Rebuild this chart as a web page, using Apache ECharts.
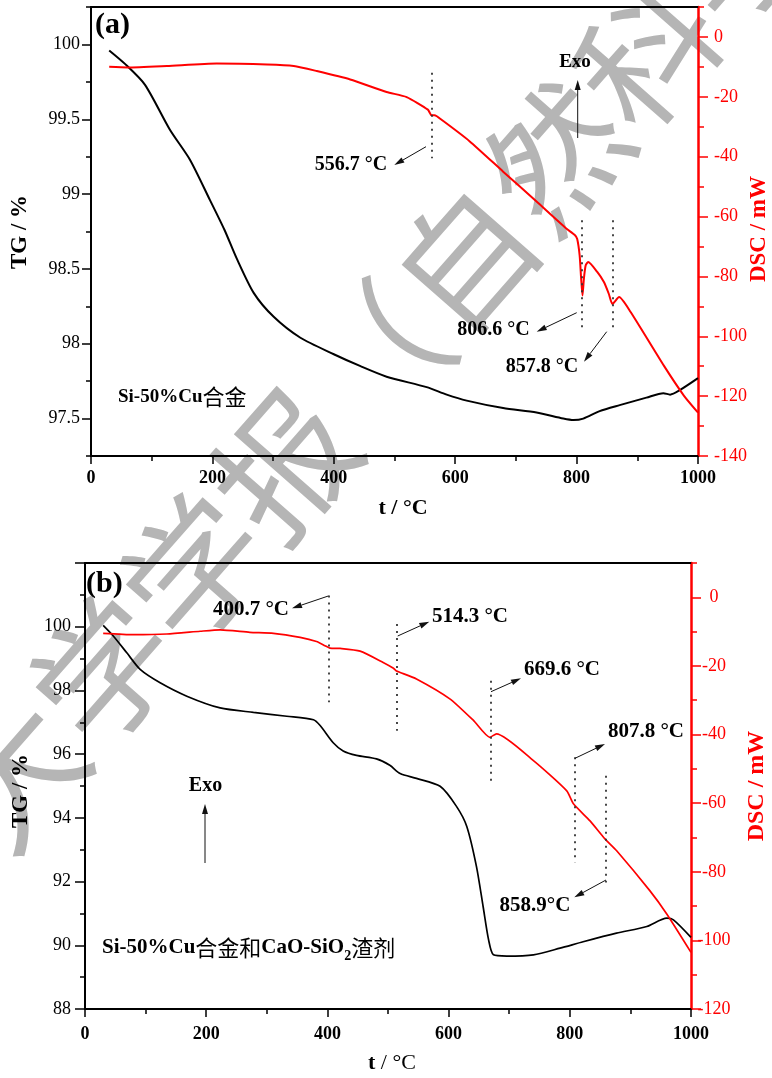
<!DOCTYPE html>
<html><head><meta charset="utf-8">
<script src="https://cdn.jsdelivr.net/npm/echarts@6/dist/echarts.min.js"></script>
<style>html,body{margin:0;padding:0;background:#fff}#c{width:772px;height:1078px}</style>
</head><body><div id="c"></div>
<script>
// ---------- DATA ----------
// Panel (a): Si-50%Cu alloy
const tgA_T = [30, 56, 89, 130, 163, 196, 220, 240, 268, 301, 345, 400, 444, 487, 553, 586, 619, 679, 734, 778, 795, 811, 838, 871, 915, 943, 954, 970, 1000];
const tgA   = [99.96, 99.87, 99.73, 99.43, 99.23, 98.96, 98.76, 98.57, 98.34, 98.18, 98.04, 97.93, 97.85, 97.78, 97.71, 97.66, 97.62, 97.57, 97.54, 97.50, 97.49, 97.50, 97.55, 97.59, 97.64, 97.67, 97.66, 97.69, 97.77];
const dscA_T = [30, 60, 125, 207, 290, 334, 372, 427, 487, 520, 555, 561, 566, 577, 624, 679, 734, 783, 797, 801, 805, 807.5, 809.7, 812, 815, 819, 834, 845, 853, 859, 870, 889, 944, 977, 1000];
const dscA   = [-10.0, -10.2, -9.7, -8.9, -9.2, -9.7, -11.4, -14.2, -18.4, -20.1, -24.3, -26.2, -26.2, -27.6, -34.9, -45.0, -55.0, -64.0, -66.2, -67.5, -73.0, -80.8, -86.4, -80.8, -76.3, -75.2, -78.5, -81.9, -85.8, -89.2, -86.9, -91.9, -109.9, -119.9, -125.5];
// Panel (b): Si-50%Cu alloy + CaO-SiO2 slag
const tgB_T = [30, 47, 69, 91, 124, 168, 223, 278, 333, 377, 388, 410, 426, 448, 481, 503, 520, 547, 586, 613, 630, 646, 657, 666, 674, 696, 740, 784, 822, 877, 927, 960, 971, 1000];
const tgB   = [100.04, 99.70, 99.18, 98.66, 98.24, 97.82, 97.45, 97.31, 97.19, 97.08, 96.90, 96.35, 96.10, 95.96, 95.85, 95.65, 95.39, 95.24, 94.99, 94.36, 93.73, 92.47, 91.21, 90.17, 89.70, 89.66, 89.70, 89.91, 90.11, 90.38, 90.59, 90.85, 90.80, 90.25];
const dscB_T = [30, 80, 135, 190, 223, 272, 311, 355, 382, 396, 404, 421, 454, 492, 509, 514, 520, 547, 602, 641, 668, 679, 740, 795, 806, 833, 858, 877, 932, 960, 1000];
const dscB   = [-10.5, -10.9, -10.7, -9.9, -9.5, -10.2, -10.5, -11.7, -12.9, -14.1, -14.8, -14.9, -15.7, -19.0, -20.7, -21.5, -21.9, -23.8, -29.6, -35.9, -40.8, -39.8, -47.6, -56.4, -60.2, -65.1, -70.4, -73.8, -85.5, -92.3, -103.5];

// Tick values
const xMajor = [0, 200, 400, 600, 800, 1000];
const xMinor = [100, 300, 500, 700, 900];
const tgA_major = [97.5, 98, 98.5, 99, 99.5, 100];
const tgA_minor = [97.25, 97.75, 98.25, 98.75, 99.25, 99.75, 100.25];
const dscA_major = [-140, -120, -100, -80, -60, -40, -20, 0];
const dscA_minor = [-130, -110, -90, -70, -50, -30, -10, 10];
const tgB_major = [88, 90, 92, 94, 96, 98, 100, 102];
const tgB_labels = [88, 90, 92, 94, 96, 98, 100];
const tgB_minor = [89, 91, 93, 95, 97, 99, 101];
const dscB_major = [-120, -100, -80, -60, -40, -20, 0];
const dscB_minor = [-110, -90, -70, -50, -30, -10, 10];

// Dotted marker lines: temperature, DSC from, DSC to
const markA_T = [561, 809, 859];
const markA_Y1 = [-12, -61.2, -61.2];
const markA_Y2 = [-40.5, -98.1, -98.1];
const markB_T = [401.5, 514.4, 669.5, 807.4, 859.7];
const markB_Y1 = [0.5, -7.8, -24.3, -46.6, -52];
const markB_Y2 = [-30.6, -38.9, -54.9, -77.3, -83.1];
const labelsA = ['556.7 °C', '806.6 °C', '857.8 °C'];
const labelsB = ['400.7 °C', '514.3 °C', '669.6 °C', '807.8 °C', '858.9°C'];

// ---------- CHART ----------
const SERIF = 'Liberation Serif';
const RED = '#ff0000';
const chart = echarts.init(document.getElementById('c'), null, {renderer: 'canvas'});
const plain = v => String(v);

const grids = [], xAxes = [], yAxes = [], series = [];

function panel(p) {
  const g = grids.length;
  grids.push({left: p.left, top: p.top, width: p.width, height: p.height, containLabel: false, outerBoundsMode: 'none'});
  const xi = xAxes.length, yi = yAxes.length;
  const common = {gridIndex: g, type: 'value', splitLine: {show: false}};
  // x major
  xAxes.push(Object.assign({}, common, {min: 0, max: 1000, position: 'bottom',
    axisLine: {show: true, onZero: false, lineStyle: {color: '#000', width: 2}},
    axisTick: {show: true, customValues: xMajor, length: 8, lineStyle: {color: '#000', width: 1.5}},
    axisLabel: {show: true, customValues: xMajor, formatter: plain, margin: p.xMargin, color: '#000', fontFamily: SERIF, fontSize: 18, fontWeight: 'bold'}}));
  // x minor
  xAxes.push(Object.assign({}, common, {min: 0, max: 1000, position: 'bottom',
    axisLine: {show: false, onZero: false},
    axisTick: {show: true, customValues: xMinor, length: 5, lineStyle: {color: '#000', width: 1.5}},
    axisLabel: {show: false}}));
  // top frame line
  xAxes.push(Object.assign({}, common, {min: 0, max: 1000, position: 'top',
    axisLine: {show: true, onZero: false, lineStyle: {color: '#000', width: 2}},
    axisTick: {show: false}, axisLabel: {show: false}}));
  // TG major (left)
  yAxes.push(Object.assign({}, common, {min: p.tgMin, max: p.tgMax, position: 'left',
    axisLine: {show: true, onZero: false, lineStyle: {color: '#000', width: 2}},
    axisTick: {show: true, customValues: p.tgMajor, length: p.tgTick, lineStyle: {color: '#000', width: 1.5}},
    axisLabel: {show: true, customValues: p.tgLabels, formatter: plain, margin: p.leftMargin, color: '#000', fontFamily: SERIF, fontSize: 18}}));
  // TG minor
  yAxes.push(Object.assign({}, common, {min: p.tgMin, max: p.tgMax, position: 'left',
    axisLine: {show: false, onZero: false},
    axisTick: {show: true, customValues: p.tgMinor, length: 5, lineStyle: {color: '#000', width: 1.5}},
    axisLabel: {show: false}}));
  // DSC major (right)
  yAxes.push(Object.assign({}, common, {min: p.dscMin, max: p.dscMax, position: 'right',
    axisLine: {show: true, onZero: false, lineStyle: {color: RED, width: 2.5}},
    axisTick: {show: true, customValues: p.dscMajor, length: 10, lineStyle: {color: RED, width: 1.5}},
    axisLabel: {show: true, customValues: p.dscMajor, formatter: plain, margin: p.rightMargin, align: p.rightAlign, color: RED, fontFamily: SERIF, fontSize: 18}}));
  // DSC minor
  yAxes.push(Object.assign({}, common, {min: p.dscMin, max: p.dscMax, position: 'right',
    axisLine: {show: false, onZero: false},
    axisTick: {show: true, customValues: p.dscMinor, length: 6, lineStyle: {color: RED, width: 1.5}},
    axisLabel: {show: false}}));

  series.push({type: 'line', xAxisIndex: xi, yAxisIndex: yi, data: p.tgT.map((t, i) => [t, p.tg[i]]),
    showSymbol: false, smooth: 0.25, lineStyle: {color: '#000', width: p.lw}, z: 3, silent: true});
  series.push({type: 'line', xAxisIndex: xi, yAxisIndex: yi + 2, data: p.dscT.map((t, i) => [t, p.dsc[i]]),
    showSymbol: false, smooth: 0.2, lineStyle: {color: RED, width: p.lw}, z: 4, silent: true,
    markLine: {silent: true, symbol: ['none', 'none'], label: {show: false}, animation: false,
      lineStyle: {type: [2, 5], color: '#333', width: 1.8},
      data: p.markT.map((t, i) => [{coord: [t, p.markY1[i]]}, {coord: [t, p.markY2[i]]}])}});
}

panel({left: 91, top: 7, width: 607, height: 449, tgMin: 97.25, tgMax: 100.25,
  tgMajor: tgA_major, tgLabels: tgA_major, tgMinor: tgA_minor, tgTick: 9,
  dscMin: -140, dscMax: 10, dscMajor: dscA_major, dscMinor: dscA_minor,
  leftMargin: 11, rightMargin: 16, rightAlign: 'left', xMargin: 13,
  tgT: tgA_T, tg: tgA, dscT: dscA_T, dsc: dscA, markT: markA_T, markY1: markA_Y1, markY2: markA_Y2, lw: 2});
panel({left: 85, top: 563, width: 606, height: 446, tgMin: 88, tgMax: 102,
  tgMajor: tgB_major, tgLabels: tgB_labels, tgMinor: tgB_minor, tgTick: 10,
  dscMin: -120, dscMax: 10, dscMajor: dscB_major, dscMinor: dscB_minor,
  leftMargin: 14, rightMargin: 23, rightAlign: 'center', xMargin: 16,
  tgT: tgB_T, tg: tgB, dscT: dscB_T, dsc: dscB, markT: markB_T, markY1: markB_Y1, markY2: markB_Y2, lw: 1.7});

// ---------- ANNOTATIONS (layout) ----------
const G = [];
function text(x, y, str, o) {
  o = o || {};
  G.push({type: 'text', x: x, y: y, rotation: o.rot || 0, z: 50, silent: true,
    style: {text: str, fill: o.color || '#000', fontFamily: o.family || SERIF, fontSize: o.size || 20,
      fontWeight: o.weight || 'bold', align: o.align || 'center', verticalAlign: 'middle', rich: o.rich}});
}
function arrow(x1, y1, x2, y2) {
  const L = 10, W = 6;
  const dx = x2 - x1, dy = y2 - y1, len = Math.hypot(dx, dy);
  const ux = dx / len, uy = dy / len, bx = x2 - ux * L, by = y2 - uy * L, nx = -uy, ny = ux;
  G.push({type: 'line', z: 50, silent: true, shape: {x1: x1, y1: y1, x2: bx, y2: by}, style: {stroke: '#111', lineWidth: 1}});
  G.push({type: 'polygon', z: 50, silent: true,
    shape: {points: [[x2, y2], [bx + nx * W / 2, by + ny * W / 2], [bx - nx * W / 2, by - ny * W / 2]]}, style: {fill: '#111'}});
}

// watermark
G.push({type: 'text', x: 375, y: 362, rotation: 0.85, z: -10, silent: true,
  style: {text: '大学学报（自然科学', fill: '#b5b5b5', fontFamily: 'Noto Sans CJK SC', fontSize: 137,
    align: 'center', verticalAlign: 'middle'}});

// panel (a)
text(95, 25, '(a)', {size: 30, align: 'left'});
text(20, 232, 'TG / %', {size: 23, rot: Math.PI / 2});
text(759, 229, 'DSC / mW', {size: 23, rot: Math.PI / 2, color: RED});
text(403, 508, 't / °C', {size: 22});
text(575, 62, 'Exo', {size: 19});
arrow(577.7, 138, 577.7, 80);
text(351, 165, labelsA[0]);
arrow(426, 146.7, 394.3, 165);
text(493.5, 330, labelsA[1]);
arrow(576.7, 312.7, 536.7, 331.7);
text(542, 366.7, labelsA[2]);
arrow(606.7, 331.7, 584, 361.7);
text(118, 397, '{a|Si-50%Cu}{c|合金}', {align: 'left', rich: {
  a: {fontFamily: SERIF, fontWeight: 'bold', fontSize: 19},
  c: {fontFamily: 'Noto Sans CJK SC', fontWeight: 'normal', fontSize: 22}}});

// panel (b)
text(86, 584, '(b)', {size: 30, align: 'left'});
text(21, 791, 'TG / %', {size: 23, rot: Math.PI / 2});
text(757, 786, 'DSC / mW', {size: 24, rot: Math.PI / 2, color: RED});
text(392, 1063, '{a|t} {b|/ °C}', {size: 22, rich: {
  a: {fontFamily: SERIF, fontWeight: 'bold', fontSize: 22},
  b: {fontFamily: SERIF, fontWeight: 'normal', fontSize: 22}}});
text(205.5, 786, 'Exo', {size: 20});
arrow(205, 863, 205, 804);
text(251, 610, labelsB[0], {size: 21});
arrow(328.3, 596, 292, 608.3);
text(470, 617, labelsB[1], {size: 21});
arrow(397.7, 636, 429.3, 621.7);
text(562, 670, labelsB[2], {size: 21});
arrow(491, 691.7, 521, 678.3);
text(646, 732, labelsB[3], {size: 21});
arrow(575, 758.3, 605, 744);
text(535, 906, labelsB[4], {size: 21});
arrow(606, 880, 574.3, 897.3);
text(102, 948, '{a|Si-50%Cu}{c|合金和}{a|CaO-SiO}{s|2}{c|渣剂}', {align: 'left', rich: {
  a: {fontFamily: SERIF, fontWeight: 'bold', fontSize: 21},
  c: {fontFamily: 'Noto Sans CJK SC', fontWeight: 'normal', fontSize: 22},
  s: {fontFamily: SERIF, fontWeight: 'bold', fontSize: 14, padding: [16, 0, 0, 0]}}});

chart.setOption({
  animation: false,
  backgroundColor: '#ffffff',
  textStyle: {fontFamily: SERIF},
  grid: grids, xAxis: xAxes, yAxis: yAxes, series: series,
  graphic: {elements: G}
});
</script></body></html>
